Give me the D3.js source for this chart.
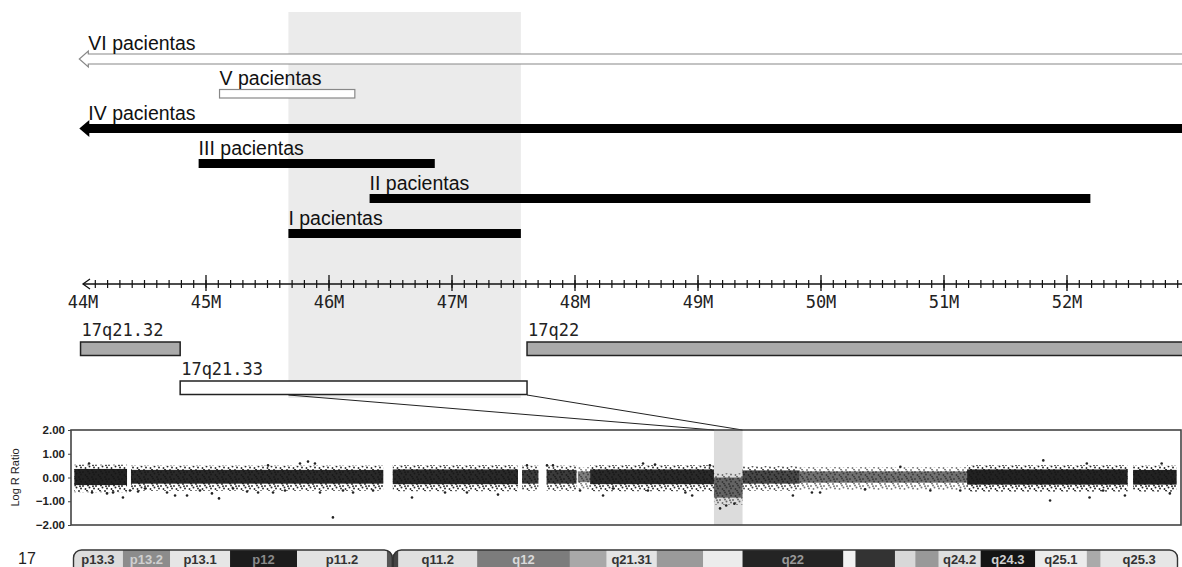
<!DOCTYPE html>
<html>
<head>
<meta charset="utf-8">
<script src="https://cdn.jsdelivr.net/npm/d3@7"></script>
<style>
  body { margin: 0; background: #fff; }
  svg { display: block; }
</style>
</head>
<body>
<script>
// patient ranges on chr17 (Mb)
var patientLabels = ["VI pacientas", "V pacientas", "IV pacientas", "III pacientas", "II pacientas", "I pacientas"];
var patientStart = [43.97, 45.11, 43.97, 44.94, 46.33, 45.67];
var patientEnd = [53.2, 46.21, 53.2, 46.86, 52.19, 47.56];
var patientKind = ["openArrow", "open", "arrow", "bar", "bar", "bar"];
var regionStart = 45.67, regionEnd = 47.56;

var axisTicks = [44, 45, 46, 47, 48, 49, 50, 51, 52];

// cytobands in the zoom window
var cytoNames = ["17q21.32", "17q21.33", "17q22"];
var cytoStart = [43.98, 44.79, 47.61];
var cytoEnd = [44.79, 47.61, 53.2];
var cytoRow = [0, 1, 0];
var cytoFill = ["#aaa", "#fff", "#aaa"];

// whole chr17 ideogram (Mb)
var bandNames = ["p13.3", "p13.2", "p13.1", "p12", "p11.2", "p11.1", "q11.1", "q11.2", "q12", "q21.2", "q21.31", "q21.32", "q21.33", "q22", "q23.1", "q23.2", "q23.3", "q24.1", "q24.2", "q24.3", "q25.1", "q25.2", "q25.3"];
var bandStart = [0, 3.67, 7.13, 11.54, 16.46, 23.07, 23.5, 23.9, 29.7, 36.5, 39.2, 42.9, 46.3, 49.2, 56.6, 57.5, 60.4, 61.9, 63.6, 66.7, 70.7, 74.5, 75.5];
var bandEnd = [3.67, 7.13, 11.54, 16.46, 23.07, 23.5, 23.9, 29.7, 36.5, 39.2, 42.9, 46.3, 49.2, 56.6, 57.5, 60.4, 61.9, 63.6, 66.7, 70.7, 74.5, 75.5, 81.2];
var bandFill = ["#dcdcdc", "#8c8c8c", "#e6e6e6", "#1c1c1c", "#e2e2e2", "#555", "#444", "#e0e0e0", "#7c7c7c", "#a8a8a8", "#e4e4e4", "#9a9a9a", "#ececec", "#242424", "#f2f2f2", "#333", "#d8d8d8", "#999", "#dedede", "#141414", "#ececec", "#aaa", "#e6e6e6"];
var bandLabelShown = ["p13.3", "p13.2", "p13.1", "p12", "p11.2", "q11.2", "q12", "q21.31", "q22", "q24.2", "q24.3", "q25.1", "q25.3"];
var bandLabelColor = {"p13.2": "#d0d0d0", "p12": "#8a8a8a", "q12": "#dadada", "q22": "#999", "q24.3": "#cfcfcf"};

// Log R Ratio cloud, segments (Mb) with upper/lower edge and darkness
var cloudStart = [0.1, 4.26, 23.5, 33.0, 34.8, 37.1, 38.0, 47.1, 49.2, 53.4, 65.7, 77.9];
var cloudEnd = [3.97, 22.8, 32.7, 34.2, 37.0, 38.0, 47.1, 49.2, 53.4, 65.7, 77.5, 81.1];
var cloudHi = [0.36, 0.32, 0.34, 0.32, 0.32, 0.26, 0.34, 0.0, 0.30, 0.26, 0.34, 0.32];
var cloudLo = [-0.32, -0.26, -0.28, -0.26, -0.26, -0.2, -0.28, -0.85, -0.26, -0.22, -0.30, -0.30];
var cloudDark = [0.95, 0.92, 0.92, 0.85, 0.85, 0.55, 0.92, 0.6, 0.8, 0.6, 0.95, 0.95];
var highlightStart = 47.1, highlightEnd = 49.2;

// isolated points of the cloud
var dotPos = [1.18, 1.40, 2.50, 2.94, 3.67, 4.19, 4.78, 5.29, 6.91, 7.50, 8.38, 9.33, 10.21, 10.73, 11.76, 12.79, 13.6, 14.33, 14.7, 15.58, 16.68, 17.27, 17.78, 18.15, 19.1, 19.84, 20.58, 22.05, 24.91, 27.34, 28.95, 31.23, 33.36, 34.83, 35.27, 37.26, 38.95, 39.68, 41.89, 42.77, 42.25, 45.0, 45.5, 46.8, 47.55, 48.0, 48.6, 52.9, 54.3, 54.9, 58.2, 60.8, 63.0, 65.2, 71.3, 71.8, 74.5, 74.7, 75.7, 77.3, 80.0, 80.6];
var dotVal = [0.59, -0.63, -0.67, -0.63, -0.84, -0.55, -0.59, -0.46, -0.63, -0.76, -0.76, -0.55, -0.67, -0.88, -0.46, -0.59, -0.63, 0.51, -0.63, -0.55, 0.59, 0.67, 0.59, -0.63, -1.68, -0.55, -0.63, -0.55, -0.84, -0.63, -0.63, -0.72, 0.51, 0.51, 0.51, -0.55, -0.76, -0.46, 0.59, 0.55, -0.55, -0.63, -0.76, 0.51, -1.3, -1.18, -1.1, -0.76, -0.63, -0.63, -0.5, 0.45, -0.55, -0.55, 0.72, -0.97, 0.59, -0.84, -0.55, -0.76, 0.59, -0.67];

var width = 1182, height = 567;

var svg = d3.select("body").append("svg")
  .attr("width", width)
  .attr("height", height)
  .style("font-family", "'Liberation Sans', Arial, sans-serif");

var defs = svg.append("defs");

// zoom window scale (44M .. 53M)
var x = d3.scaleLinear().domain([44, 53]).range([83, 1190]);
var lane = d3.scalePoint().domain(patientLabels).range([54, 229]);

// grey region behind the top panel
svg.append("rect")
  .attr("x", x(regionStart))
  .attr("y", 12)
  .attr("width", x(regionEnd) - x(regionStart))
  .attr("height", 386)
  .attr("fill", "#ebebeb");

// patient bars
var patients = d3.range(patientLabels.length).map(function(i) {
  return {name: patientLabels[i], s: patientStart[i], e: patientEnd[i], kind: patientKind[i]};
});

var pg = svg.append("g").selectAll("g").data(patients).enter().append("g");

pg.each(function(d) {
  var g = d3.select(this);
  var y0 = lane(d.name);
  var x0 = x(d.s), x1 = x(d.e);
  if (d.kind == "openArrow") {
    g.append("path")
      .attr("d", "M" + x1 + "," + y0 + "H" + (x0 + 9) + "V" + (y0 - 3) + "L" + x0 + "," + (y0 + 5) +
        "L" + (x0 + 9) + "," + (y0 + 13) + "V" + (y0 + 10) + "H" + x1)
      .attr("fill", "#fff")
      .attr("stroke", "#888")
      .attr("stroke-width", 1.2);
  } else if (d.kind == "arrow") {
    g.append("path")
      .attr("d", "M" + x1 + "," + y0 + "H" + (x0 + 10) + "V" + (y0 - 4) + "L" + x0 + "," + (y0 + 4.5) +
        "L" + (x0 + 10) + "," + (y0 + 13) + "V" + (y0 + 9) + "H" + x1 + "Z")
      .attr("fill", "#000");
  } else if (d.kind == "open") {
    g.append("rect")
      .attr("x", x0).attr("y", y0 + 0.5)
      .attr("width", x1 - x0).attr("height", 8.5)
      .attr("fill", "#fff")
      .attr("stroke", "#888")
      .attr("stroke-width", 1.2);
  } else {
    g.append("rect")
      .attr("x", x0).attr("y", y0)
      .attr("width", x1 - x0).attr("height", 9)
      .attr("fill", "#000");
  }
  g.append("text")
    .attr("x", (d.kind == "openArrow" || d.kind == "arrow") ? x0 + 9 : x0)
    .attr("y", y0 - 4)
    .attr("font-size", "19.5px")
    .attr("fill", "#111")
    .text(d.name);
});

// genomic axis
var axisY = 284;
var ax = svg.append("g").attr("class", "gaxis");
ax.append("line")
  .attr("x1", x(44)).attr("x2", width)
  .attr("y1", axisY).attr("y2", axisY)
  .attr("stroke", "#111").attr("stroke-width", 1.3);
ax.append("path")
  .attr("d", "M" + (x(44) + 7) + "," + (axisY - 5) + "L" + x(44) + "," + axisY + "L" + (x(44) + 7) + "," + (axisY + 5))
  .attr("fill", "none").attr("stroke", "#111").attr("stroke-width", 1.3);
var minor = d3.range(441, 532).map(function(v) { return v / 10; });
ax.selectAll(".minor").data(minor).enter().append("line")
  .attr("x1", function(d) { return x(d); })
  .attr("x2", function(d) { return x(d); })
  .attr("y1", axisY - 4).attr("y2", axisY + 4)
  .attr("stroke", "#111").attr("stroke-width", 1.2);
ax.selectAll(".major").data(axisTicks.slice(1)).enter().append("line")
  .attr("x1", function(d) { return x(d); })
  .attr("x2", function(d) { return x(d); })
  .attr("y1", axisY - 9).attr("y2", axisY + 7)
  .attr("stroke", "#111").attr("stroke-width", 1.3);
ax.selectAll(".lab").data(axisTicks).enter().append("text")
  .attr("x", function(d) { return x(d); })
  .attr("y", 308)
  .attr("text-anchor", "middle")
  .attr("font-family", "'DejaVu Sans Mono', monospace")
  .attr("font-size", "17px")
  .attr("fill", "#222")
  .text(function(d) { return d + "M"; });

// cytoband boxes
var cytoY = [342, 381];
var cytos = d3.range(cytoNames.length).map(function(i) {
  return {name: cytoNames[i], s: cytoStart[i], e: cytoEnd[i], row: cytoRow[i], fill: cytoFill[i]};
});
var cg = svg.append("g").selectAll("g").data(cytos).enter().append("g");
cg.append("rect")
  .attr("x", function(d) { return x(d.s); })
  .attr("y", function(d) { return cytoY[d.row]; })
  .attr("width", function(d) { return x(d.e) - x(d.s); })
  .attr("height", 13.5)
  .attr("fill", function(d) { return d.fill; })
  .attr("stroke", "#222")
  .attr("stroke-width", 1.5);
cg.append("text")
  .attr("x", function(d) { return x(d.s) + 1; })
  .attr("y", function(d) { return cytoY[d.row] - 6; })
  .attr("font-family", "'DejaVu Sans Mono', monospace")
  .attr("font-size", "17px")
  .attr("fill", "#222")
  .text(function(d) { return d.name; });

// Log R Ratio panel
var cx = d3.scaleLinear().domain([0, 81.2]).range([73, 1178]);
var ly = d3.scaleLinear().domain([-2, 2]).range([525, 430]);

svg.append("rect")
  .attr("x", cx(highlightStart))
  .attr("y", ly(2))
  .attr("width", cx(highlightEnd) - cx(highlightStart))
  .attr("height", ly(-2) - ly(2))
  .attr("fill", "#dcdcdc");

// lines joining the region to the chromosome panel
svg.append("line")
  .attr("x1", x(regionStart)).attr("y1", 395)
  .attr("x2", cx(highlightStart)).attr("y2", ly(2))
  .attr("stroke", "#222").attr("stroke-width", 1);
svg.append("line")
  .attr("x1", x(cytoEnd[1])).attr("y1", 395)
  .attr("x2", cx(highlightEnd)).attr("y2", ly(2))
  .attr("stroke", "#222").attr("stroke-width", 1);

// speckle texture for the fringe of the point cloud
var speck = defs.append("pattern").attr("id", "speck")
  .attr("patternUnits", "userSpaceOnUse")
  .attr("width", 13).attr("height", 7);
[[1, 1], [5, 3], [9, 0.5], [11.5, 4.5], [3, 5.5], [7.5, 6], [2, 3.2], [10, 2.5]].forEach(function(p) {
  speck.append("circle").attr("cx", p[0]).attr("cy", p[1]).attr("r", 0.95).attr("fill", "#1a1a1a");
});
defs.append("filter").attr("id", "fuzz")
  .append("feGaussianBlur").attr("stdDeviation", 0.6);

var clouds = d3.range(cloudStart.length).map(function(i) {
  return {s: cloudStart[i], e: cloudEnd[i], hi: cloudHi[i], lo: cloudLo[i], k: cloudDark[i]};
});
var cloudG = svg.append("g");
cloudG.selectAll(".halo").data(clouds).enter().append("rect")
  .attr("x", function(d) { return cx(d.s); })
  .attr("y", function(d) { return ly(d.hi + 0.18); })
  .attr("width", function(d) { return cx(d.e) - cx(d.s); })
  .attr("height", function(d) { return ly(d.lo - 0.3) - ly(d.hi + 0.18); })
  .attr("fill", "url(#speck)")
  .attr("opacity", function(d) { return d.k; });
cloudG.append("g").attr("filter", "url(#fuzz)")
  .selectAll(".core").data(clouds).enter().append("rect")
  .attr("x", function(d) { return cx(d.s); })
  .attr("y", function(d) { return ly(d.hi); })
  .attr("width", function(d) { return cx(d.e) - cx(d.s); })
  .attr("height", function(d) { return ly(d.lo) - ly(d.hi); })
  .attr("fill", "#161616")
  .attr("opacity", function(d) { return d.k; });

svg.append("g").selectAll("circle").data(dotPos).enter().append("circle")
  .attr("cx", function(d) { return cx(d); })
  .attr("cy", function(d, i) { return ly(dotVal[i]); })
  .attr("r", 1.3)
  .attr("fill", "#222");

svg.append("rect")
  .attr("x", 71).attr("y", ly(2))
  .attr("width", 1110).attr("height", ly(-2) - ly(2))
  .attr("fill", "none")
  .attr("stroke", "#444")
  .attr("stroke-width", 1.6);

var yAxis = d3.axisLeft(ly).tickValues([-2, -1, 0, 1, 2]).tickFormat(d3.format(".2f")).tickSize(3);
var yg = svg.append("g").attr("transform", "translate(71,0)").call(yAxis);
yg.select(".domain").remove();
yg.selectAll("text")
  .attr("font-family", "'Liberation Sans', Arial, sans-serif")
  .attr("font-size", "11.5px")
  .attr("font-weight", "bold")
  .attr("fill", "#222");
yg.selectAll("line").attr("stroke", "#444");

svg.append("text")
  .attr("transform", "translate(19," + ly(0) + ") rotate(-90)")
  .attr("text-anchor", "middle")
  .attr("font-size", "11px")
  .attr("fill", "#222")
  .text("Log R Ratio");

// chromosome ideogram
var chrTop = 550, chrH = 24;
var clip = defs.append("clipPath").attr("id", "chrClip");
clip.append("rect").attr("x", cx(0)).attr("y", chrTop).attr("width", cx(23.5) - cx(0)).attr("height", chrH).attr("rx", 8);
clip.append("rect").attr("x", cx(23.5)).attr("y", chrTop).attr("width", cx(81.2) - cx(23.5)).attr("height", chrH).attr("rx", 8);

var bands = d3.range(bandNames.length).map(function(i) {
  return {name: bandNames[i], s: bandStart[i], e: bandEnd[i], fill: bandFill[i]};
});
var chr = svg.append("g");
chr.append("g").attr("clip-path", "url(#chrClip)")
  .selectAll("rect").data(bands).enter().append("rect")
  .attr("x", function(d) { return cx(d.s); })
  .attr("y", chrTop)
  .attr("width", function(d) { return cx(d.e) - cx(d.s) + 0.5; })
  .attr("height", chrH)
  .attr("fill", function(d) { return d.fill; });
chr.selectAll(".arm").data([[0, 23.5], [23.5, 81.2]]).enter().append("rect")
  .attr("x", function(d) { return cx(d[0]) + 0.5; })
  .attr("y", chrTop)
  .attr("width", function(d) { return cx(d[1]) - cx(d[0]) - 1; })
  .attr("height", chrH)
  .attr("rx", 8)
  .attr("fill", "none")
  .attr("stroke", "#333")
  .attr("stroke-width", 1.4);
chr.selectAll(".blab").data(bands.filter(function(d) { return bandLabelShown.indexOf(d.name) >= 0; }))
  .enter().append("text")
  .attr("x", function(d) { return (cx(d.s) + cx(d.e)) / 2; })
  .attr("y", 564)
  .attr("text-anchor", "middle")
  .attr("font-size", "13px")
  .attr("font-weight", "bold")
  .attr("fill", function(d) { return bandLabelColor[d.name] || "#333"; })
  .text(function(d) { return d.name; });

svg.append("text")
  .attr("x", 18).attr("y", 564)
  .attr("font-size", "16px")
  .attr("fill", "#222")
  .text("17");
</script>
</body>
</html>
